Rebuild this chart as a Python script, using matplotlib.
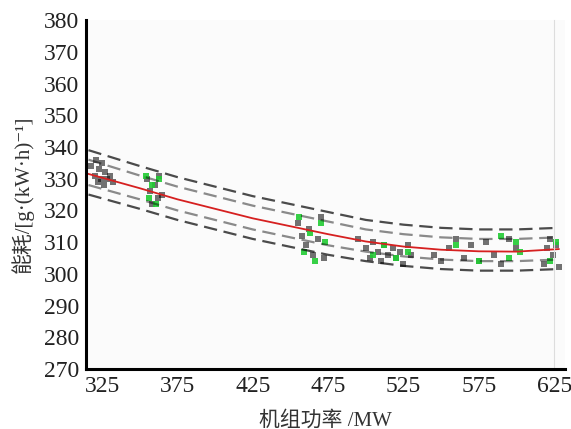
import matplotlib
matplotlib.use('Agg')
import matplotlib.pyplot as plt

plt.rcParams['font.family'] = ['Liberation Serif', 'Noto Sans CJK SC', 'DejaVu Sans']

# fitted curve (red) and band lines (black dashed)
fit_x = [316, 350, 375, 400, 425, 450, 475, 500, 525, 550, 575, 600, 628]
fit_y = [331.5, 327, 323.5, 320.5, 317.5, 315, 312.5, 310.2, 308.6, 307.6, 307.1, 307.0, 307.8]
upper_y = [339, 334, 330.5, 327.5, 324.5, 322, 319.5, 317, 315.5, 314.5, 314, 314, 314.5]
upper2_y = [336, 331, 327.5, 324.5, 321.5, 319, 316.5, 314, 312.5, 311.5, 311, 311, 311.5]
lower_y = [325, 320.5, 317, 314, 311, 308.5, 306, 304, 302.5, 301.5, 301, 301, 301.5]
lower2_y = [328, 323.5, 320, 317, 314, 311.5, 309, 307, 305.5, 304.5, 304, 304, 304.5]

# measured points (black)
pts_x = [318, 320, 321, 322, 323, 324, 325, 326, 327, 328, 330, 332,
         355, 357, 358, 360, 362, 363, 365,
         455, 458, 460, 462, 465, 468, 470, 472,
         495, 500, 503, 505, 508, 510, 512, 515, 518, 520, 523, 525, 528, 530,
         545, 550, 555, 560, 565, 570, 575, 580, 585, 590, 595, 600,
         618, 620, 622, 624, 626, 628]
pts_y = [334, 331, 336, 329, 333, 330, 335, 328, 332, 330, 331, 329,
         330, 326, 322, 328, 324, 331, 325,
         316, 312, 309, 314, 306, 311, 318, 305,
         311, 308, 305, 310, 307, 304, 309, 306, 308, 305, 307, 303, 309, 306,
         306, 304, 308, 311, 305, 309, 304, 310, 306, 303, 311, 308,
         303, 308, 311, 306, 309, 302]

# highlighted points (green)
grn_x = [354, 356, 358, 361, 363, 456, 459, 463, 466, 470, 473,
         505, 512, 520, 528, 560, 575, 590, 595, 600, 602, 622, 626]
grn_y = [331, 324, 328, 322, 330, 318, 307, 313, 304, 316, 310,
         306, 309, 305, 307, 309, 304, 312, 305, 310, 307, 304, 310]

fig = plt.figure(figsize=(5.71, 4.29), dpi=100)
fig.patch.set_facecolor('white')
ax = fig.add_axes([0.151, 0.14, 0.838, 0.813])
ax.set_facecolor('#fbfbfb')

for yy, a in [(upper_y, 0.7), (upper2_y, 0.45), (lower2_y, 0.45), (lower_y, 0.7)]:
    ax.plot(fit_x, yy, color='black', linestyle=(0, (6, 3)), linewidth=1.6, alpha=a)

ax.scatter(pts_x, pts_y, marker='s', s=22, color='black', alpha=0.55, linewidths=0)
ax.scatter(grn_x, grn_y, marker='s', s=22, color='#22cc33', alpha=0.9, linewidths=0)
ax.plot(fit_x, fit_y, color='#d62020', linewidth=1.3)

ax.set_xlim(314.5, 632)
ax.set_ylim(270, 380)
ax.set_xticks([325, 375, 425, 475, 525, 575, 625])
ax.set_yticks(list(range(270, 381, 10)))
ax.tick_params(labelsize=17, length=0, pad=5, colors='#222222')

ax.spines['top'].set_visible(False)
ax.spines['right'].set_color('#dddddd')
ax.spines['right'].set_position(('data', 625))
ax.spines['left'].set_linewidth(2.2)
ax.spines['bottom'].set_linewidth(2.2)

ax.set_xlabel('机组功率 /MW', fontsize=15, color='#333333')
ax.set_ylabel('能耗/[g·(kW·h)⁻¹]', fontsize=15, color='#333333')
ax.xaxis.set_label_coords(0.5, -0.12)
ax.yaxis.set_label_coords(-0.11, 0.5)

fig.savefig('out.png', dpi=100)
